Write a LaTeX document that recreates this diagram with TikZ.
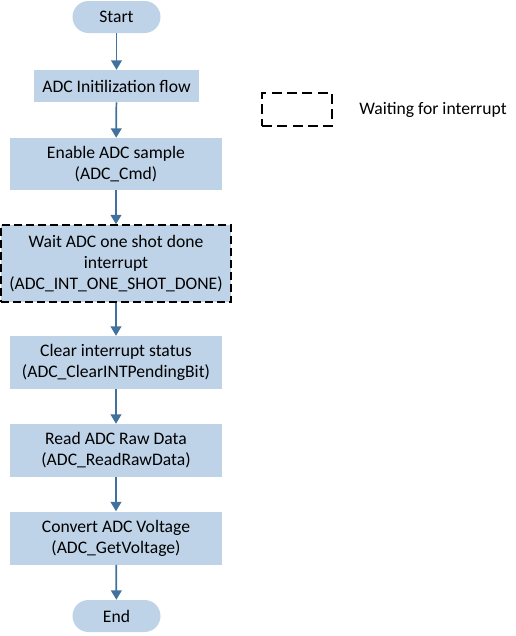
\documentclass[tikz,border=0pt]{standalone}
\usepackage{fontspec}
\setmainfont{Carlito}
\usetikzlibrary{arrows.meta}
\definecolor{boxblue}{RGB}{190,211,232}
\definecolor{arrowblue}{RGB}{65,113,156}
\tikzset{
  process/.style={fill=boxblue, align=center, inner sep=2pt,
    font=\fontsize{13.2}{15.75}\selectfont},
  terminal/.style={process, rounded corners=12pt},
  waitbox/.style={process, draw=black, line width=1.1pt, dash pattern=on 6pt off 3pt},
  flow/.style={-{Triangle[width=8pt,length=7pt]}, draw=arrowblue, fill=arrowblue, line width=1.3pt}
}
\begin{document}
\begin{tikzpicture}[x=0.75pt,y=-0.75pt]
  \useasboundingbox (0,0) rectangle (516,636);

  % Terminals
  \node[terminal, minimum width=66pt, minimum height=24pt] (start) at (116.5,17) {Start};
  \node[terminal, minimum width=66pt, minimum height=24pt] (end) at (116.5,616) {End};

  % Steps
  \node[process, minimum width=123.75pt, minimum height=24pt] (init) at (116.5,86) {ADC Initilization flow};
  \node[process, minimum width=159pt, minimum height=39pt] (enable) at (116,164) {Enable ADC sample\\(ADC\_Cmd)};
  \node[waitbox, minimum width=172.5pt, minimum height=57.75pt] (wait) at (116,263.5) {Wait ADC one shot done\\interrupt\\(ADC\_INT\_ONE\_SHOT\_DONE)};
  \node[process, minimum width=159pt, minimum height=39.75pt] (clear) at (116,362.5) {Clear interrupt status\\(ADC\_ClearINTPendingBit)};
  \node[process, minimum width=159pt, minimum height=39.75pt] (read) at (116,450.5) {Read ADC Raw Data\\(ADC\_ReadRawData)};
  \node[process, minimum width=159pt, minimum height=39.75pt] (convert) at (116,538) {Convert ADC Voltage\\(ADC\_GetVoltage)};

  % Legend
  \node[draw=black, line width=1.1pt, dash pattern=on 7.5pt off 4pt, minimum width=52.5pt, minimum height=24.75pt] (legendbox) at (297,109.5) {};
  \node[anchor=west, inner sep=0pt, font=\fontsize{13.2}{15.75}\selectfont] (legendtext) at (359,110) {Waiting for interrupt};

  % Flow
  \draw[flow] (start) -- (init);
  \draw[flow] (init) -- (enable);
  \draw[flow] (enable) -- (wait);
  \draw[flow] (wait) -- (clear);
  \draw[flow] (clear) -- (read);
  \draw[flow] (read) -- (convert);
  \draw[flow] (convert) -- (end);

\end{tikzpicture}
\end{document}
